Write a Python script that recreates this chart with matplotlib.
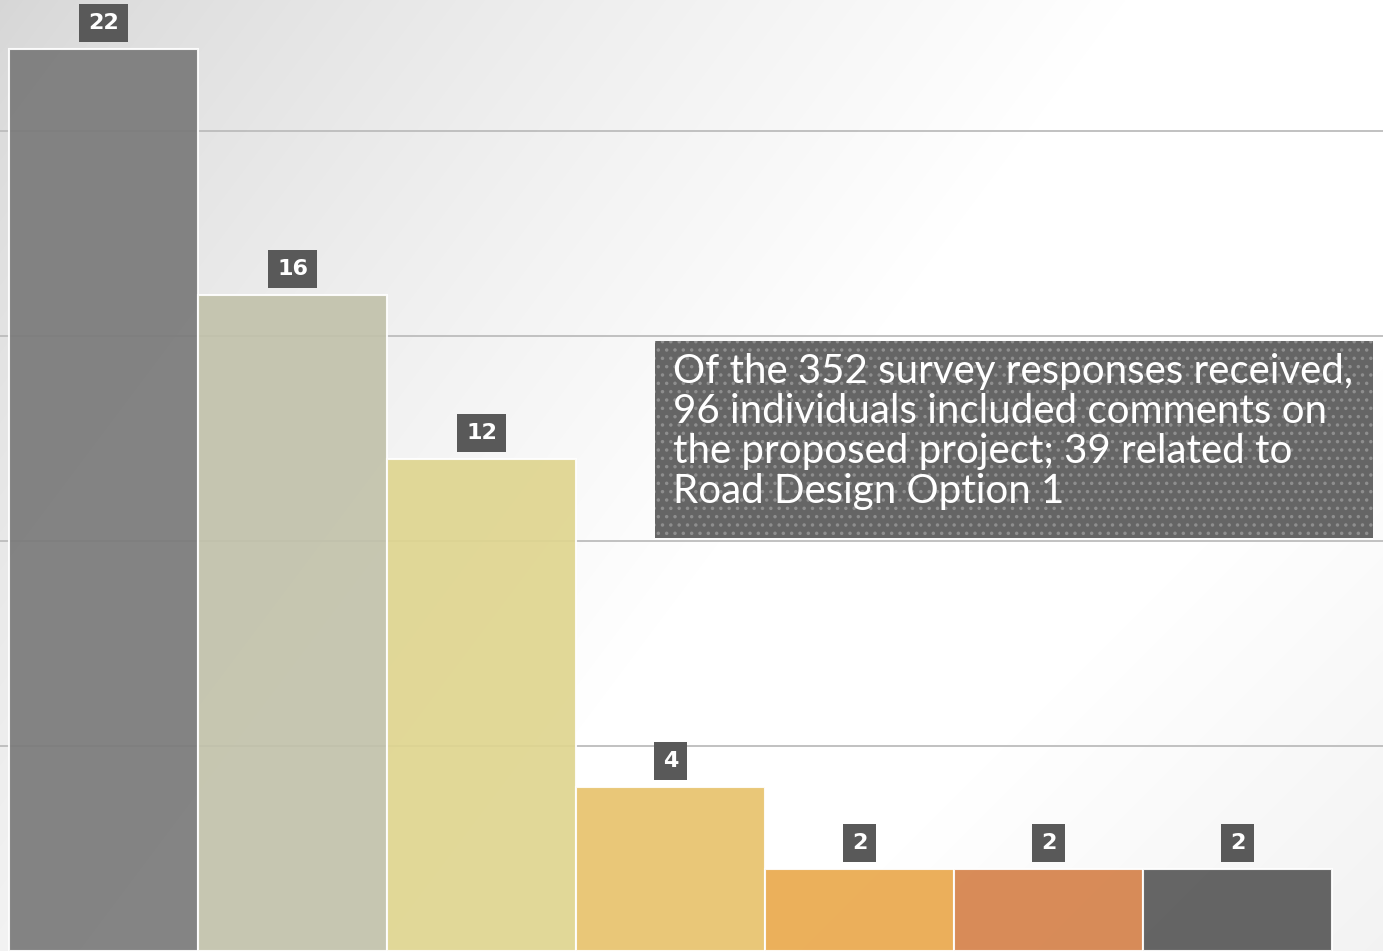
import numpy as np
import matplotlib.pyplot as plt
from matplotlib.patches import Rectangle

# Data
values = [22, 16, 12, 4, 2, 2, 2]
colors = ['#7a7a7a', '#c2c2ab', '#dfd58f', '#e8c36d', '#eaa94d', '#d5824a', '#585858']
note = ("Of the 352 survey responses received,\n"
        "96 individuals included comments on\n"
        "the proposed project; 39 related to\n"
        "Road Design Option 1")

W, H = 1383, 951
fig = plt.figure(figsize=(W / 100, H / 100), dpi=100)
plt.rcParams['hatch.linewidth'] = 1.3

# gradient background (grey in the top-left corner, fading to white)
yy, xx = np.mgrid[0:H, 0:W]
d = (xx * 0.8 + yy * 0.6) / 900.0
bg = 0.84 + 0.16 * np.clip(d, 0, 1) ** 0.8
bg -= 0.05 * np.clip((xx + yy - 1750) / 600.0, 0, 1)
bgax = fig.add_axes([0, 0, 1, 1])
bgax.imshow(np.dstack([bg, bg, bg]), aspect='auto', extent=[0, 1, 0, 1])
bgax.axis('off')

ax = fig.add_axes([0, 0, 1, 1])
ax.patch.set_alpha(0)
x = np.arange(len(values))
ax.bar(x, values, width=1.0, color=colors, alpha=0.92,
       edgecolor=(1, 1, 1, 0.55), linewidth=1.5, zorder=2)
for v in [5, 10, 15, 20]:
    ax.axhline(v, color='#bcbcbc', linewidth=1.3, zorder=1)

for xi, v in zip(x, values):
    ax.annotate(str(v), (xi, v), xytext=(0, 19), textcoords='offset points',
                ha='center', va='center', color='white', fontsize=16,
                fontweight='bold', family='DejaVu Sans', zorder=4,
                bbox=dict(boxstyle='square,pad=0.4', fc='#595959', ec='none'))

ax.set_xlim(-0.5 - 9 / 189, -0.5 + (W - 9) / 189)
ax.set_ylim(0, 23.2)
ax.axis('off')

# note box with dotted fill
box = Rectangle((655 / W, 1 - 538 / H), 718 / W, 197 / H, transform=ax.transAxes,
                facecolor='#656565', edgecolor='#8e8e8e', hatch='..',
                linewidth=0, zorder=5)
ax.add_patch(box)
ax.text(673 / W, 1 - 353 / H, note, transform=ax.transAxes, ha='left', va='top',
        color='white', fontsize=29, family='Lato', fontweight='normal',
        linespacing=1.1, zorder=6)

fig.savefig('out.png', dpi=100)
